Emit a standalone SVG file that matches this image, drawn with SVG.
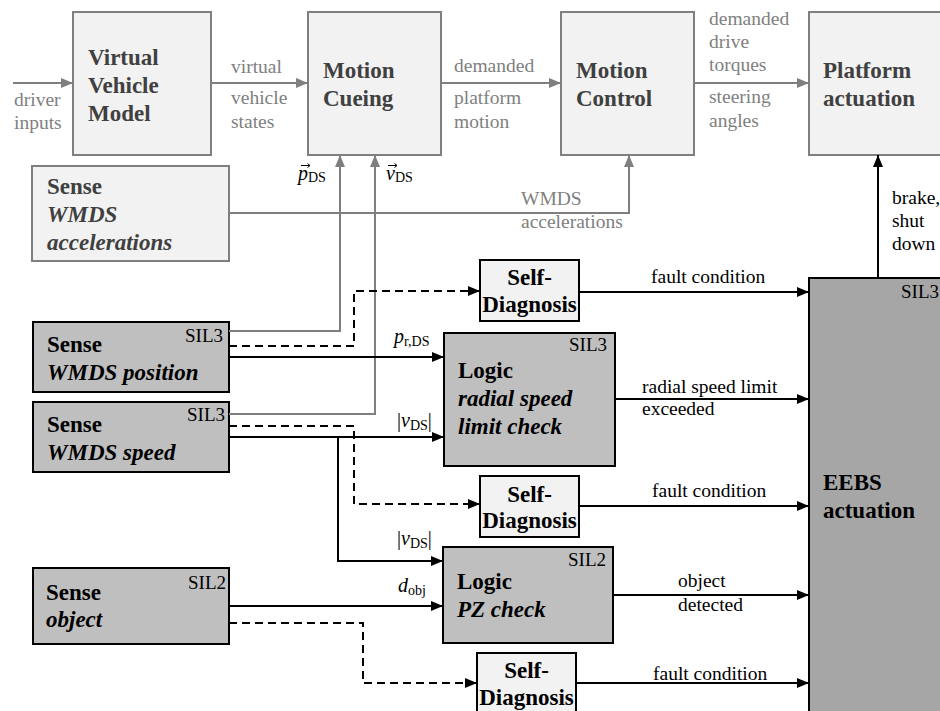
<svg xmlns="http://www.w3.org/2000/svg" width="940" height="711" viewBox="0 0 940 711">
  <style>
    text { font-family: "Liberation Serif", "DejaVu Serif", serif; }
    .sim { fill: #f2f2f2; stroke: #7f7f7f; stroke-width: 2; }
    .sd { fill: #f2f2f2; stroke: #000; stroke-width: 2; }
    .safe { fill: #bfbfbf; stroke: #000; stroke-width: 2; }
    .eebs { fill: #a6a6a6; stroke: #000; stroke-width: 2; }
    .ttl { font-size: 23px; font-weight: bold; fill: #404040; }
    .ttlb { font-size: 23px; font-weight: bold; fill: #000; }
    .it { font-style: italic; }
    .glab { font-size: 19.5px; fill: #808080; }
    .lab { font-size: 19.5px; fill: #000; }
    .sil { font-size: 19px; fill: #000; text-anchor: end; }
    .math { font-size: 20px; fill: #000; }
    .sub { font-size: 14px; font-style: normal; }
    .vec { fill: none; stroke: #000; stroke-width: 1; }
    .gline { fill: none; stroke: #7f7f7f; stroke-width: 2; }
    .bline { fill: none; stroke: #000; stroke-width: 2; }
    .dash { stroke-dasharray: 8 5; }
  </style>
  <defs>
    <marker id="ag" viewBox="0 0 12 10" refX="12" refY="5" markerWidth="12" markerHeight="10" markerUnits="userSpaceOnUse" orient="auto">
      <path d="M0,0 L12,5 L0,10 Z" fill="#7f7f7f"/>
    </marker>
    <marker id="ab" viewBox="0 0 12 10" refX="12" refY="5" markerWidth="12" markerHeight="10" markerUnits="userSpaceOnUse" orient="auto">
      <path d="M0,0 L12,5 L0,10 Z" fill="#000"/>
    </marker>
  </defs>

  <!-- simulator chain -->
  <g id="virtual-vehicle-model">
    <rect class="sim" x="73" y="12" width="138" height="143"/>
    <text class="ttl" x="88" y="65">Virtual</text>
    <text class="ttl" x="88" y="93">Vehicle</text>
    <text class="ttl" x="88" y="121">Model</text>
  </g>
  <g id="motion-cueing">
    <rect class="sim" x="308" y="12" width="133" height="143"/>
    <text class="ttl" x="323" y="78">Motion</text>
    <text class="ttl" x="323" y="106">Cueing</text>
  </g>
  <g id="motion-control">
    <rect class="sim" x="561" y="12" width="133" height="143"/>
    <text class="ttl" x="576" y="78">Motion</text>
    <text class="ttl" x="576" y="106">Control</text>
  </g>
  <g id="platform-actuation">
    <rect class="sim" x="809" y="12" width="160" height="143"/>
    <text class="ttl" x="823" y="78">Platform</text>
    <text class="ttl" x="823" y="106">actuation</text>
  </g>
  <g id="sense-accelerations">
    <rect class="sim" x="32" y="166" width="197" height="95"/>
    <text class="ttl" x="47" y="194">Sense</text>
    <text class="ttl it" x="47" y="222">WMDS</text>
    <text class="ttl it" x="47" y="250">accelerations</text>
  </g>

  <!-- safety chain -->
  <g id="sense-position">
    <rect class="safe" x="33" y="322" width="196" height="70"/>
    <text class="sil" x="223" y="342">SIL3</text>
    <text class="ttlb" x="47" y="352">Sense</text>
    <text class="ttlb it" x="47" y="380">WMDS position</text>
  </g>
  <g id="sense-speed">
    <rect class="safe" x="33" y="402" width="196" height="70"/>
    <text class="sil" x="225" y="421">SIL3</text>
    <text class="ttlb" x="47" y="432">Sense</text>
    <text class="ttlb it" x="47" y="460">WMDS speed</text>
  </g>
  <g id="sense-object">
    <rect class="safe" x="33" y="568" width="196" height="76"/>
    <text class="sil" x="226" y="589">SIL2</text>
    <text class="ttlb" x="46" y="600">Sense</text>
    <text class="ttlb it" x="46" y="627">object</text>
  </g>
  <g id="self-diagnosis-position">
    <rect class="sd" x="480" y="260" width="99" height="61"/>
    <text class="ttlb" x="529.5" y="285" text-anchor="middle">Self-</text>
    <text class="ttlb" x="529.5" y="312" text-anchor="middle">Diagnosis</text>
  </g>
  <g id="logic-radial-speed">
    <rect class="safe" x="444" y="333" width="171" height="133"/>
    <text class="sil" x="607" y="351">SIL3</text>
    <text class="ttlb" x="458" y="378">Logic</text>
    <text class="ttlb it" x="458" y="406">radial speed</text>
    <text class="ttlb it" x="458" y="434">limit check</text>
  </g>
  <g id="self-diagnosis-speed">
    <rect class="sd" x="480" y="476" width="99" height="61"/>
    <text class="ttlb" x="529.5" y="502" text-anchor="middle">Self-</text>
    <text class="ttlb" x="529.5" y="528" text-anchor="middle">Diagnosis</text>
  </g>
  <g id="logic-pz">
    <rect class="safe" x="443" y="547" width="170" height="96"/>
    <text class="sil" x="606" y="566">SIL2</text>
    <text class="ttlb" x="457" y="589">Logic</text>
    <text class="ttlb it" x="457" y="617">PZ check</text>
  </g>
  <g id="self-diagnosis-object">
    <rect class="sd" x="477" y="653" width="99" height="70"/>
    <text class="ttlb" x="526.5" y="678" text-anchor="middle">Self-</text>
    <text class="ttlb" x="526.5" y="705" text-anchor="middle">Diagnosis</text>
  </g>
  <g id="eebs-actuation">
    <rect class="eebs" x="809" y="278" width="160" height="450"/>
    <text class="sil" x="939" y="298">SIL3</text>
    <text class="ttlb" x="823" y="490">EEBS</text>
    <text class="ttlb" x="823" y="518">actuation</text>
  </g>

  <g id="connectors">
    <!-- simulator signals -->
    <path class="gline" d="M13,83 H73" marker-end="url(#ag)"/>
    <path class="gline" d="M211,83 H308" marker-end="url(#ag)"/>
    <path class="gline" d="M441,83 H561" marker-end="url(#ag)"/>
    <path class="gline" d="M694,83 H809" marker-end="url(#ag)"/>
    <path class="gline" d="M229,213 H629 V155" marker-end="url(#ag)"/>
    <path class="gline" d="M229,331 H340 V155" marker-end="url(#ag)"/>
    <path class="gline" d="M229,414 H375 V155" marker-end="url(#ag)"/>
    <!-- safety signals -->
    <path class="bline dash" d="M229,346 H354 V291 H480" marker-end="url(#ab)"/>
    <path class="bline" d="M229,357 H444" marker-end="url(#ab)"/>
    <path class="bline dash" d="M229,426 H354 V504 H480" marker-end="url(#ab)"/>
    <path class="bline" d="M229,437 H444" marker-end="url(#ab)"/>
    <path class="bline" d="M338,437 V561 H443" marker-end="url(#ab)"/>
    <path class="bline" d="M229,606 H443" marker-end="url(#ab)"/>
    <path class="bline dash" d="M229,623 H363 V683 H477" marker-end="url(#ab)"/>
    <path class="bline" d="M579,292 H809" marker-end="url(#ab)"/>
    <path class="bline" d="M615,399 H809" marker-end="url(#ab)"/>
    <path class="bline" d="M579,506 H809" marker-end="url(#ab)"/>
    <path class="bline" d="M613,595 H809" marker-end="url(#ab)"/>
    <path class="bline" d="M576,683 H809" marker-end="url(#ab)"/>
    <path class="bline" d="M878,278 V155" marker-end="url(#ab)"/>
  </g>

  <g id="labels">
    <text class="glab" x="14" y="106">driver</text>
    <text class="glab" x="14" y="129">inputs</text>
    <text class="glab" x="231" y="73">virtual</text>
    <text class="glab" x="231" y="104">vehicle</text>
    <text class="glab" x="231" y="128">states</text>
    <text class="glab" x="454" y="72">demanded</text>
    <text class="glab" x="454" y="104">platform</text>
    <text class="glab" x="454" y="128">motion</text>
    <text class="glab" x="709" y="25">demanded</text>
    <text class="glab" x="709" y="48">drive</text>
    <text class="glab" x="709" y="71">torques</text>
    <text class="glab" x="709" y="103">steering</text>
    <text class="glab" x="709" y="127">angles</text>
    <text class="glab" x="521" y="205">WMDS</text>
    <text class="glab" x="521" y="228">accelerations</text>

    <!-- vector accents over p and v -->
    <path class="vec" d="M301,165.5 H310 M307.5,163.5 L310,165.5 L307.5,167.5"/>
    <path class="vec" d="M388,165.5 H397 M394.5,163.5 L397,165.5 L394.5,167.5"/>
    <text class="math it" x="298" y="180">p<tspan class="sub" dy="2">DS</tspan></text>
    <text class="math it" x="386" y="180">v<tspan class="sub" dy="2">DS</tspan></text>
    <text class="math it" x="394" y="343">p<tspan class="sub it" dy="3">r</tspan><tspan class="sub">,DS</tspan></text>
    <text class="math" x="397" y="427">|<tspan class="it">v</tspan><tspan class="sub" dy="3">DS</tspan><tspan dy="-3">|</tspan></text>
    <text class="math" x="397" y="545">|<tspan class="it">v</tspan><tspan class="sub" dy="3">DS</tspan><tspan dy="-3">|</tspan></text>
    <text class="math it" x="398" y="592">d<tspan class="sub" dy="3">obj</tspan></text>

    <text class="lab" x="651" y="283">fault condition</text>
    <text class="lab" x="892" y="204">brake,</text>
    <text class="lab" x="892" y="227">shut</text>
    <text class="lab" x="892" y="250">down</text>
    <text class="lab" x="642" y="393">radial speed limit</text>
    <text class="lab" x="642" y="415">exceeded</text>
    <text class="lab" x="652" y="497">fault condition</text>
    <text class="lab" x="678" y="587">object</text>
    <text class="lab" x="678" y="611">detected</text>
    <text class="lab" x="653" y="680">fault condition</text>
  </g>
</svg>
